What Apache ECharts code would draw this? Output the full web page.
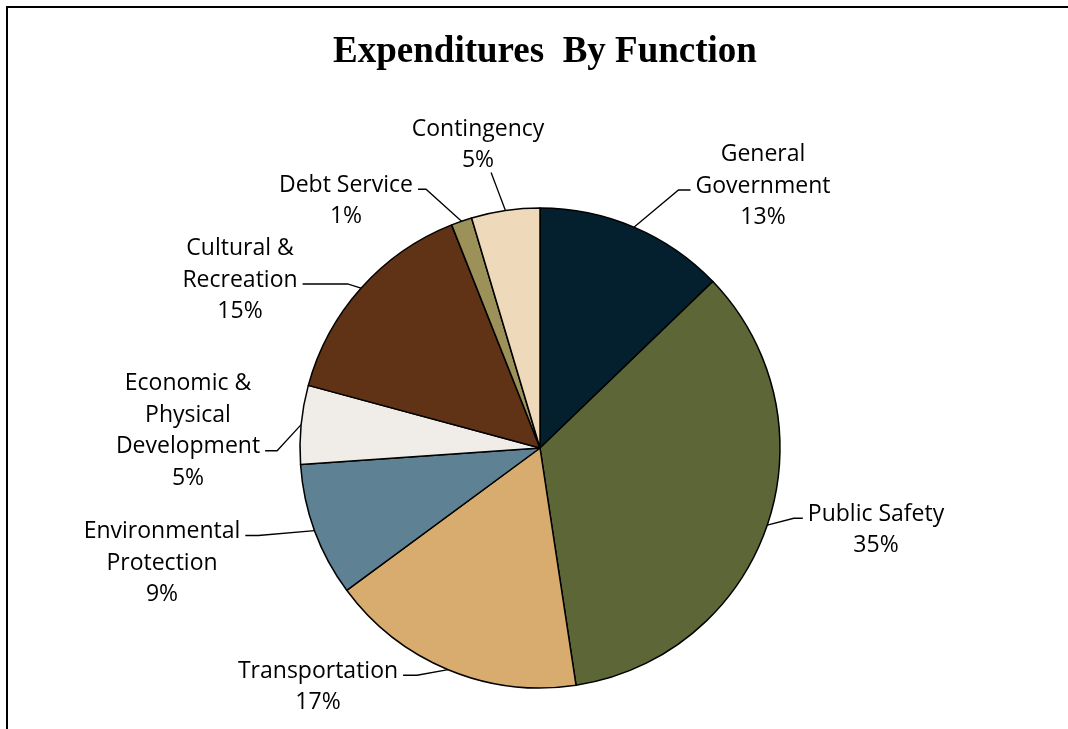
<!DOCTYPE html>
<html>
<head>
<meta charset="utf-8">
<script src="https://cdn.jsdelivr.net/npm/echarts@6/dist/echarts.min.js"></script>
<style>
html,body{margin:0;padding:0;background:#fff;}
#chart{width:1068px;height:729px;}
</style>
</head>
<body>
<div id="chart"></div>
<script>
// Data
const categories = ['General\nGovernment', 'Public Safety', 'Transportation', 'Environmental\nProtection', 'Economic &\nPhysical\nDevelopment', 'Cultural &\nRecreation', 'Debt Service', 'Contingency'];
const shares = [12.8, 34.8, 17.3, 9.0, 5.3, 14.8, 1.4, 4.6];
const colors = ['#04202E', '#5C6636', '#D8AB6E', '#5E8294', '#F0ECE8', '#603316', '#9B9159', '#EFD9BB'];
// label layout: centre of text block, side where leader line attaches, text line it attaches to, horizontal stub length
const labelPos = [[763,186],[876,530],[318,687],[162,563],[188,431],[240,280],[346,201],[478,145]];
const labelAttach = [['l',1,12],['l',0,9],['r',0,14],['r',0,13],['r',2,12],['r',1,45],['r',0,8],['b',1,0]];

const CX = 540, CY = 448, R = 240;
const FONT_SIZE = 23, FONT = 'Open Sans';
const total = shares.reduce((a,b)=>a+b,0);
const cum = [0];
shares.forEach((v,i)=>cum.push(cum[i]+v/total));

const mctx = document.createElement('canvas').getContext('2d');
mctx.font = FONT_SIZE + 'px "' + FONT + '"';

function midPoint(i){
  const t = (cum[i]+cum[i+1])/2*2*Math.PI;
  return [CX + R*Math.sin(t), CY - R*Math.cos(t)];
}

const chart = echarts.init(document.getElementById('chart'), null, {renderer:'canvas'});
chart.setOption({
  backgroundColor:'#ffffff',
  animation:false,
  title:{
    text:'Expenditures  By Function',
    left:540, top:29, textAlign:'center',
    textStyle:{fontFamily:'Liberation Serif', fontWeight:'bold', fontSize:37, color:'#000'}
  },
  graphic:[
    {type:'line', shape:{x1:7,y1:6,x2:7,y2:729}, style:{stroke:'#000',lineWidth:2}},
    {type:'line', shape:{x1:6,y1:7,x2:1068,y2:7}, style:{stroke:'#000',lineWidth:2}}
  ],
  series:[{
    type:'pie',
    center:[CX,CY],
    radius:R,
    startAngle:90,
    clockwise:true,
    avoidLabelOverlap:false,
    data:categories.map((c,i)=>({name:c, value:shares[i], itemStyle:{color:colors[i]}})),
    itemStyle:{borderColor:'#000', borderWidth:1.5},
    label:{
      show:true,
      position:'outside',
      formatter:p=>p.name+'\n'+Math.round(p.percent)+'%',
      fontFamily:FONT,
      fontSize:FONT_SIZE,
      lineHeight:31.5,
      color:'#000',
      align:'center'
    },
    labelLine:{show:true, length:20, length2:15, lineStyle:{color:'#000', width:1.3}},
    labelLayout:function(params){
      const i = params.dataIndex;
      const p = labelPos[i];
      const at = labelAttach[i];
      const rect = params.labelRect;
      const lines = (categories[i] + '\n' + Math.round(shares[i]/total*100) + '%').split('\n');
      const lh = rect.height / lines.length;
      const top = p[1] - rect.height/2;
      const e = midPoint(i);
      let pts;
      if (at[0] === 'b') {
        const w = mctx.measureText(lines[at[1]]).width;
        const ex = p[0] + w/2 - 3, ey = top + rect.height - 4;
        pts = [e, [ex, ey], [ex, ey]];
      } else {
        const ly = top + lh*(at[1] + 0.5) + 4;
        const w = mctx.measureText(lines[at[1]]).width;
        const sx = at[0] === 'l' ? p[0] - w/2 - 5 : p[0] + w/2 + 5;
        const bx = at[0] === 'l' ? sx - at[2] : sx + at[2];
        pts = [e, [bx, ly], [sx, ly]];
      }
      return {x:p[0], y:p[1], align:'center', verticalAlign:'middle', labelLinePoints:pts};
    },
    emphasis:{disabled:true}
  }]
});
</script>
</body>
</html>
